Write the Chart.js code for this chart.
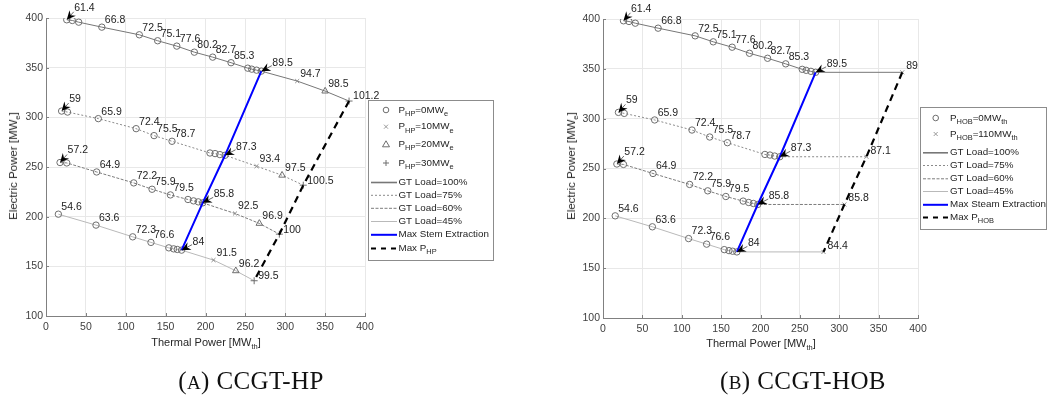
<!DOCTYPE html>
<html>
<head>
<meta charset="utf-8">
<script src="https://cdn.jsdelivr.net/npm/chart.js@4/dist/chart.umd.min.js"></script>
<style>
html,body{margin:0;padding:0;background:#fff;}
body{width:1048px;height:396px;position:relative;overflow:hidden;font-family:"Liberation Sans",Arial,sans-serif;}
.wrap{position:absolute;top:0;height:396px;}
#wrapA{left:0;width:520px;}
#wrapB{left:520px;width:528px;}
.xt{position:absolute;font-size:11px;color:#262626;white-space:nowrap;transform:translate(-50%,-50%);}
.yt{position:absolute;font-size:11.5px;color:#262626;white-space:nowrap;transform:translate(-50%,-50%) rotate(-90deg);}
.xt sub,.yt sub{font-size:7.5px;vertical-align:-3px;line-height:0;}
.cap{position:absolute;font-family:"Liberation Serif","Times New Roman",serif;font-size:25px;color:#111;white-space:nowrap;transform:translate(-50%,-50%);letter-spacing:0.4px;}
.cap .sc{font-size:19px;}
</style>
</head>
<body>
<div class="wrap" id="wrapA"><canvas id="chartA" width="520" height="396"></canvas></div>
<div class="wrap" id="wrapB"><canvas id="chartB" width="528" height="396"></canvas></div>

<div class="xt" style="left:206px;top:342px;">Thermal Power [MW<sub>th</sub>]</div>
<div class="yt" style="left:13px;top:166px;">Electric Power [MW<sub>e</sub>]</div>
<div class="xt" style="left:761px;top:343px;">Thermal Power [MW<sub>th</sub>]</div>
<div class="yt" style="left:571px;top:166px;">Electric Power [MW<sub>e</sub>]</div>

<div class="cap" style="left:251px;top:381px;">(<span class="sc">A</span>) CCGT-HP</div>
<div class="cap" style="left:803px;top:381px;">(<span class="sc">B</span>) CCGT-HOB</div>

<script>
const FAM = '"Liberation Sans", Arial, Helvetica, sans-serif';

// ---- Data -------------------------------------------------------------
// Operating points without extra heat (P_HP = 0 / P_HOB = 0), one list per GT load.
// x = thermal power [MW_th], y = electric power [MW_e], lab = efficiency label [%]
const load100X = [26, 33, 41, 70, 117, 140, 164, 186, 209, 232, 253, 258, 264, 270];
const load100Y = [398.2, 397.5, 395.8, 390.8, 383.1, 377.1, 371.7, 365.6, 360.6, 355.0, 349.5, 348.5, 347.5, 346.5];
const load100Lab = ['61.4', null, null, '66.8', '72.5', '75.1', '77.6', '80.2', '82.7', '85.3', null, null, null, '89.5'];

const load75X = [19.6, 27, 65.6, 113, 135.5, 158, 205.6, 212, 218, 224.5];
const load75Y = [306.3, 305.3, 298.7, 288.6, 281.6, 275.9, 264.1, 263.5, 262.5, 261.8];
const load75Lab = ['59', null, '65.9', '72.4', '75.5', '78.7', null, null, null, '87.3'];

const load60X = [17.6, 26, 63.5, 110, 133, 156, 178, 185, 191, 196.5];
const load60Y = [254.5, 254.1, 245.0, 234.0, 227.6, 221.9, 217.3, 215.9, 214.9, 213.9];
const load60Lab = ['57.2', null, '64.9', '72.2', '75.9', '79.5', null, null, null, '85.8'];

const load45X = [15.5, 62.7, 108.7, 131.6, 154, 160, 164.6, 170];
const load45Y = [202.5, 191.5, 179.7, 174.1, 168.6, 167.6, 167.0, 166.3];
const load45Lab = ['54.6', '63.6', '72.3', '76.6', null, null, null, '84'];

// Heat pump cases (one value per GT load: 100, 75, 60, 45 %)
const hp10X = [315, 264, 237, 210];
const hp10Y = [336.5, 250.8, 203.2, 156.3];
const hp10Lab = ['94.7', '93.4', '92.5', '91.5'];

const hp20X = [350, 296, 267.5, 238];
const hp20Y = [326.4, 241.7, 193.2, 145.5];
const hp20Lab = ['98.5', '97.5', '96.9', '96.2'];

const hp30X = [380, 322.6, 292.6, 261];
const hp30Y = [316.4, 231.7, 182.4, 135.5];
const hp30Lab = ['101.2', '100.5', '100', '99.5'];

// Heat-only boiler case, P_HOB = 110 MW_th
const hob110X = [380, 334.5, 306.5, 280];
const hob110Y = [346.5, 261.8, 213.9, 166.3];
const hob110Lab = ['89', '87.1', '85.8', '84.4'];

// Axis ticks
const xTicks = [0, 50, 100, 150, 200, 250, 300, 350, 400];
const yTicks = [100, 150, 200, 250, 300, 350, 400];

const loadNames = ['GT Load=100%', 'GT Load=75%', 'GT Load=60%', 'GT Load=45%'];
const loadX = [load100X, load75X, load60X, load45X];
const loadY = [load100Y, load75Y, load60Y, load45Y];
const loadLab = [load100Lab, load75Lab, load60Lab, load45Lab];

// ---- Styles -----------------------------------------------------------
const lineStyles = [
  { borderColor: '#777777', borderWidth: 1, borderDash: [] },
  { borderColor: '#8a8a8a', borderWidth: 1, borderDash: [2, 2] },
  { borderColor: '#7c7c7c', borderWidth: 1, borderDash: [3, 1.5] },
  { borderColor: '#b9b9b9', borderWidth: 1, borderDash: [] }
];
const MARK = '#6e6e6e';
const startArrow = [true, true, true, false];

const pts = (xs, ys) => xs.map((x, i) => ({ x: x, y: ys[i] }));
const maxExtX = loadX.map(a => a[a.length - 1]);
const maxExtY = loadY.map(a => a[a.length - 1]);

function markerSet(data, style, r, color) {
  return { data: data, showLine: false, pointStyle: style, pointRadius: r,
    pointBorderColor: color, pointBackgroundColor: 'rgba(0,0,0,0)', pointBorderWidth: 1 };
}
function lineSet(data, st) {
  return Object.assign({ data: data, showLine: true, pointRadius: 0, fill: false, tension: 0 }, st);
}

// ---- Label list builders ---------------------------------------------
function baseLabels() {
  const out = [];
  for (let i = 0; i < 4; i++) {
    const xs = loadX[i], ys = loadY[i], lb = loadLab[i];
    for (let j = 0; j < xs.length; j++) {
      if (!lb[j]) continue;
      let kind = 'plain';
      if (j === 0 && startArrow[i]) kind = 'start';
      if (j === xs.length - 1) kind = 'max';
      out.push({ x: xs[j], y: ys[j], t: lb[j], kind: kind });
    }
  }
  return out;
}
function addLabels(out, xs, ys, lb, kind) {
  xs.forEach((x, i) => out.push({ x: x, y: ys[i], t: lb[i], kind: kind }));
}
const labelsA = baseLabels();
addLabels(labelsA, hp10X, hp10Y, hp10Lab, 'plain');
addLabels(labelsA, hp20X, hp20Y, hp20Lab, 'plain');
addLabels(labelsA, hp30X, hp30Y, hp30Lab, 'end');
const labelsB = baseLabels();
addLabels(labelsB, hob110X, hob110Y, hob110Lab, 'hob');

const kindOffset = {
  plain: { dx: 3, dy: -7 },
  start: { dx: 7.5, dy: -12, ax: 7, ay: -8 },
  max:   { dx: 11, dy: -8.5, ax: 10.5, ay: -5.5 },
  end:   { dx: 4, dy: -4.5 },
  hob:   { dx: 4, dy: -6 }
};

function drawArrow(ctx, tx, ty, px, py) {
  const dx = px - tx, dy = py - ty, L = Math.hypot(dx, dy);
  const ux = dx / L, uy = dy / L, nx = -uy, ny = ux;
  ctx.save();
  ctx.strokeStyle = '#444'; ctx.lineWidth = 0.8; ctx.setLineDash([]);
  ctx.beginPath(); ctx.moveTo(tx, ty); ctx.lineTo(px - ux * 5, py - uy * 5); ctx.stroke();
  const hl = 9, hw = 4.2, back = 6;
  ctx.fillStyle = '#000';
  ctx.beginPath();
  ctx.moveTo(px, py);
  ctx.lineTo(px - ux * hl + nx * hw, py - uy * hl + ny * hw);
  ctx.lineTo(px - ux * back, py - uy * back);
  ctx.lineTo(px - ux * hl - nx * hw, py - uy * hl - ny * hw);
  ctx.closePath(); ctx.fill();
  ctx.restore();
}

const valueLabels = {
  id: 'valueLabels',
  afterDatasetsDraw(chart, args, opts) {
    const ctx = chart.ctx, xs = chart.scales.x, ys = chart.scales.y;
    ctx.save();
    ctx.font = '10.5px ' + FAM;
    ctx.fillStyle = '#1e1e1e';
    ctx.textAlign = 'left';
    ctx.textBaseline = 'middle';
    for (const l of opts.items) {
      const px = xs.getPixelForValue(l.x), py = ys.getPixelForValue(l.y);
      const o = kindOffset[l.kind];
      if (o.ax !== undefined) drawArrow(ctx, px + o.ax, py + o.ay, px, py);
      ctx.fillText(l.t, px + o.dx, py + o.dy);
    }
    ctx.restore();
  }
};

// inward tick marks on the bottom and left axes
const innerTicks = {
  id: 'innerTicks',
  afterDraw(chart) {
    const ctx = chart.ctx, a = chart.chartArea, xs = chart.scales.x, ys = chart.scales.y;
    ctx.save();
    ctx.strokeStyle = '#808080'; ctx.lineWidth = 1;
    ctx.beginPath();
    xTicks.forEach(v => { const p = Math.round(xs.getPixelForValue(v)) + 0.5; ctx.moveTo(p, a.bottom); ctx.lineTo(p, a.bottom - 3); });
    yTicks.forEach(v => { const p = Math.round(ys.getPixelForValue(v)) + 0.5; ctx.moveTo(a.left, p); ctx.lineTo(a.left + 3, p); });
    ctx.stroke();
    ctx.restore();
  }
};

function richText(ctx, x, y, parts, size) {
  let cx = x;
  for (const p of parts) {
    const s = p.sub ? size * 0.76 : size;
    ctx.font = s + 'px ' + FAM;
    ctx.fillText(p.t, cx, p.sub ? y + 4 : y);
    cx += ctx.measureText(p.t).width;
  }
}
function drawMarker(ctx, kind, x, y) {
  ctx.save();
  ctx.strokeStyle = MARK; ctx.lineWidth = 1; ctx.setLineDash([]);
  ctx.beginPath();
  if (kind === 'circle') { ctx.arc(x, y, 2.8, 0, Math.PI * 2); }
  else if (kind === 'x') { ctx.moveTo(x - 2, y - 2); ctx.lineTo(x + 2, y + 2); ctx.moveTo(x - 2, y + 2); ctx.lineTo(x + 2, y - 2); ctx.strokeStyle = '#9a9a9a'; }
  else if (kind === 'tri') { ctx.moveTo(x, y - 3.5); ctx.lineTo(x + 3.5, y + 2.5); ctx.lineTo(x - 3.5, y + 2.5); ctx.closePath(); }
  else if (kind === 'plus') { ctx.moveTo(x - 3, y); ctx.lineTo(x + 3, y); ctx.moveTo(x, y - 3); ctx.lineTo(x, y + 3); }
  ctx.stroke();
  ctx.restore();
}
const legendLine = {
  blue: { borderColor: '#0000ff', borderWidth: 2, borderDash: [] },
  black: { borderColor: '#000000', borderWidth: 2, borderDash: [5, 5] }
};
const boxLegend = {
  id: 'boxLegend',
  afterDraw(chart, args, o) {
    const ctx = chart.ctx;
    ctx.save();
    ctx.fillStyle = '#ffffff';
    ctx.fillRect(o.x, o.y, o.w, o.h);
    ctx.strokeStyle = '#8c8c8c'; ctx.lineWidth = 1;
    ctx.strokeRect(o.x + 0.5, o.y + 0.5, o.w, o.h);
    ctx.textAlign = 'left'; ctx.textBaseline = 'middle';
    for (const r of o.rows) {
      if (r.marker) drawMarker(ctx, r.marker, o.mx, r.y);
      if (r.line !== undefined) {
        const st = typeof r.line === 'number' ? lineStyles[r.line] : legendLine[r.line];
        ctx.save();
        ctx.strokeStyle = st.borderColor;
        ctx.lineWidth = typeof r.line === 'number' && r.line === 0 ? 1.6 : st.borderWidth;
        ctx.setLineDash(st.borderDash);
        ctx.beginPath(); ctx.moveTo(o.l0, r.y + 0.5); ctx.lineTo(o.l1, r.y + 0.5); ctx.stroke();
        ctx.restore();
      }
      ctx.fillStyle = '#1e1e1e';
      richText(ctx, o.tx, r.y, r.parts, 9.8);
    }
    ctx.restore();
  }
};
const T = t => ({ t: t });
const S = t => ({ t: t, sub: true });

function scales(yWidth) {
  const tickFont = { family: FAM, size: 10.5 };
  return {
    x: {
      type: 'linear', min: 0, max: 400,
      afterBuildTicks(s) { s.ticks = xTicks.map(v => ({ value: v })); },
      ticks: { color: '#404040', font: tickFont, padding: 5, maxRotation: 0, autoSkip: false },
      grid: { color: '#e8e8e8', drawTicks: false },
      border: { color: '#808080', width: 1 },
      afterFit(s) { s.height = 20; }
    },
    y: {
      type: 'linear', min: 100, max: 400,
      afterBuildTicks(s) { s.ticks = yTicks.map(v => ({ value: v })); },
      ticks: { color: '#404040', font: tickFont, padding: 3, autoSkip: false },
      grid: { color: '#e8e8e8', drawTicks: false },
      border: { color: '#808080', width: 1 },
      afterFit(s) { s.width = yWidth; }
    }
  };
}

const allCircles = loadX.flatMap((xs, i) => pts(xs, loadY[i]));

// ---- Panel A: CCGT with heat pump --------------------------------------
const dsA = [
  lineSet(pts(maxExtX, maxExtY), legendLine.blue),
  lineSet(pts(hp30X, hp30Y), { borderColor: '#000', borderWidth: 2.2, borderDash: [7, 5] }),
  markerSet(allCircles, 'circle', 3.2, MARK),
  markerSet(pts(hp10X, hp10Y), 'crossRot', 2.8, '#8a8a8a'),
  markerSet(pts(hp20X, hp20Y), 'triangle', 3.8, MARK),
  markerSet(pts(hp30X, hp30Y), 'cross', 3.5, MARK)
];
for (let i = 0; i < 4; i++) {
  const xs = loadX[i].concat([hp10X[i], hp20X[i], hp30X[i]]);
  const ys = loadY[i].concat([hp10Y[i], hp20Y[i], hp30Y[i]]);
  dsA.push(lineSet(pts(xs, ys), lineStyles[i]));
}

const common = {
  responsive: false, animation: false, events: [],
  plugins: { legend: { display: false }, tooltip: { enabled: false } }
};

new Chart(document.getElementById('chartA'), {
  type: 'scatter',
  data: { datasets: dsA },
  options: Object.assign({}, common, {
    layout: { padding: { left: 0, top: 18, right: 155, bottom: 60 } },
    scales: scales(46),
    plugins: {
      legend: { display: false }, tooltip: { enabled: false },
      valueLabels: { items: labelsA },
      boxLegend: {
        x: 368, y: 100, w: 125, h: 160, mx: 386, l0: 371, l1: 397, tx: 398.5,
        rows: [
          { y: 110, marker: 'circle', parts: [T('P'), S('HP'), T('=0MW'), S('e')] },
          { y: 126.7, marker: 'x', parts: [T('P'), S('HP'), T('=10MW'), S('e')] },
          { y: 144.3, marker: 'tri', parts: [T('P'), S('HP'), T('=20MW'), S('e')] },
          { y: 163, marker: 'plus', parts: [T('P'), S('HP'), T('=30MW'), S('e')] },
          { y: 182, line: 0, parts: [T(loadNames[0])] },
          { y: 194.8, line: 1, parts: [T(loadNames[1])] },
          { y: 207.8, line: 2, parts: [T(loadNames[2])] },
          { y: 221, line: 3, parts: [T(loadNames[3])] },
          { y: 234.3, line: 'blue', parts: [T('Max Stem Extraction')] },
          { y: 248, line: 'black', parts: [T('Max P'), S('HP')] }
        ]
      }
    }
  }),
  plugins: [valueLabels, innerTicks, boxLegend]
});

// ---- Panel B: CCGT with heat-only boiler -------------------------------
const dsB = [
  lineSet(pts(maxExtX, maxExtY), legendLine.blue),
  lineSet(pts(hob110X, hob110Y), { borderColor: '#000', borderWidth: 2.2, borderDash: [7, 5] }),
  markerSet(allCircles, 'circle', 3.2, MARK),
  markerSet(pts(hob110X, hob110Y), 'crossRot', 2.8, '#8a8a8a')
];
for (let i = 0; i < 4; i++) {
  const xs = loadX[i].concat([hob110X[i]]);
  const ys = loadY[i].concat([hob110Y[i]]);
  dsB.push(lineSet(pts(xs, ys), lineStyles[i]));
}

new Chart(document.getElementById('chartB'), {
  type: 'scatter',
  data: { datasets: dsB },
  options: Object.assign({}, common, {
    layout: { padding: { left: 37, top: 19, right: 130, bottom: 58 } },
    scales: scales(46),
    plugins: {
      legend: { display: false }, tooltip: { enabled: false },
      valueLabels: { items: labelsB },
      boxLegend: {
        x: 400, y: 107, w: 126, h: 122, mx: 415.7, l0: 403, l1: 428, tx: 430,
        rows: [
          { y: 118, marker: 'circle', parts: [T('P'), S('HOB'), T('=0MW'), S('th')] },
          { y: 134, marker: 'x', parts: [T('P'), S('HOB'), T('=110MW'), S('th')] },
          { y: 152.3, line: 0, parts: [T(loadNames[0])] },
          { y: 165, line: 1, parts: [T(loadNames[1])] },
          { y: 178.3, line: 2, parts: [T(loadNames[2])] },
          { y: 191, line: 3, parts: [T(loadNames[3])] },
          { y: 204.3, line: 'blue', parts: [T('Max Steam Extraction')] },
          { y: 217, line: 'black', parts: [T('Max P'), S('HOB')] }
        ]
      }
    }
  }),
  plugins: [valueLabels, innerTicks, boxLegend]
});
</script>
</body>
</html>
